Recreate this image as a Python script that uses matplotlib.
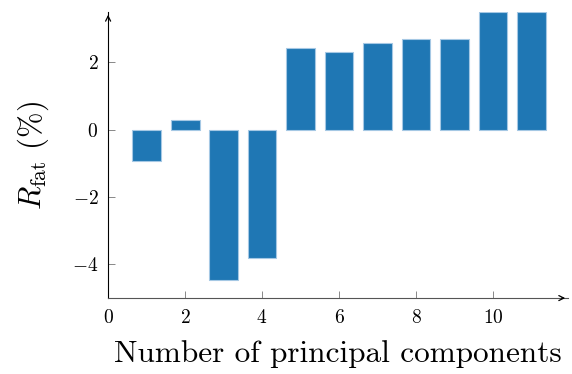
import matplotlib
matplotlib.use("Agg")
import matplotlib.pyplot as plt

plt.rcParams['font.family'] = 'serif'
plt.rcParams['font.serif'] = ['cmr10', 'DejaVu Serif']
plt.rcParams['mathtext.fontset'] = 'cm'
plt.rcParams['axes.formatter.use_mathtext'] = True
plt.rcParams['axes.unicode_minus'] = True

# number of principal components and fat residual (%)
n_comp = [1, 2, 3, 4, 5, 6, 7, 8, 9, 10, 11]
r_fat = [-0.93, 0.30, -4.45, -3.82, 2.43, 2.31, 2.59, 2.69, 2.69, 3.51, 3.51]

x_ticks = [0, 2, 4, 6, 8, 10]
y_ticks = [-4, -2, 0, 2]

fig = plt.figure(figsize=(5.72, 3.74), dpi=100)
ax = fig.add_axes([0.189, 0.203, 0.804, 0.765])

ax.bar(n_comp, r_fat, width=0.75, color='#1f77b4',
       edgecolor='#a5c8e4', linewidth=0.8)

ax.set_xlim(0, 11.95)
ax.set_ylim(-5, 3.5)
ax.set_xticks(x_ticks)
ax.set_yticks(y_ticks)

for s in ['top', 'right']:
    ax.spines[s].set_visible(False)
ax.spines['left'].set_color('black')
ax.spines['bottom'].set_color('#555555')
ax.tick_params(direction='in', length=5, width=0.7, color='#888888',
               labelsize=14)
ax.tick_params(axis='x', pad=8)
ax.tick_params(axis='y', pad=7)

# arrow heads on the axis lines
ax.annotate('', xy=(1.0, 0), xytext=(0.98, 0), xycoords='axes fraction',
            arrowprops=dict(arrowstyle='->', lw=0.9, color='black',
                            mutation_scale=9))
ax.annotate('', xy=(0, 1.0), xytext=(0, 0.97), xycoords='axes fraction',
            arrowprops=dict(arrowstyle='->', lw=0.9, color='black',
                            mutation_scale=9))

ax.set_xlabel('Number of principal components', fontsize=22.5, labelpad=9)
ax.set_ylabel(r'$R_{\mathrm{fat}}$ (%)', fontsize=22, labelpad=15)

fig.savefig('out.png', dpi=100)
